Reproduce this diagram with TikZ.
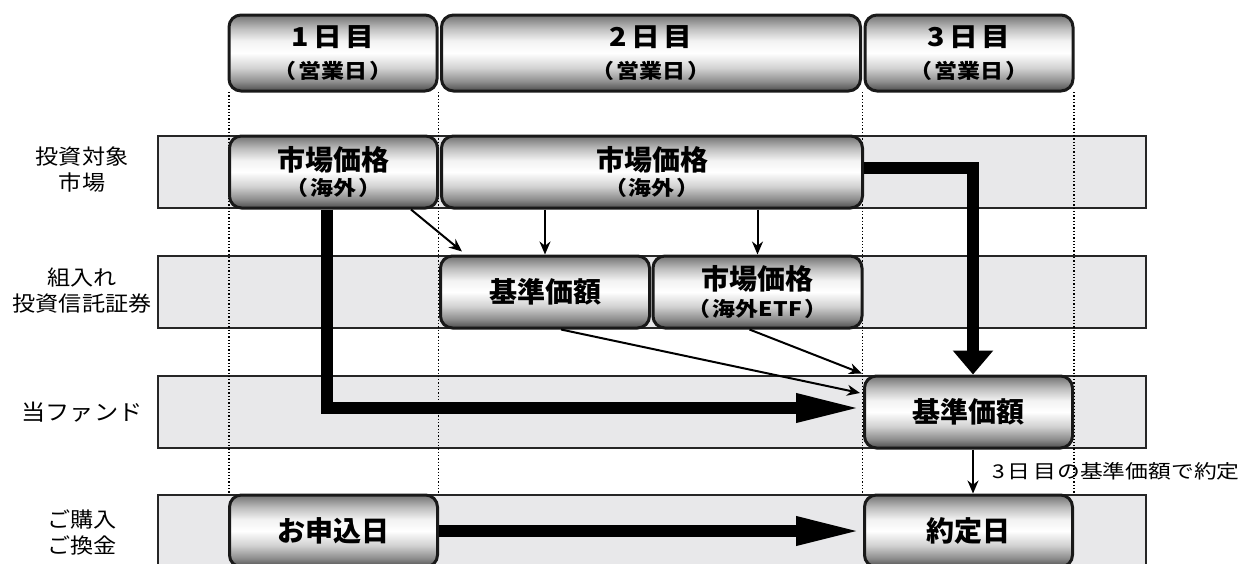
\documentclass[tikz,border=0pt]{standalone}
\usepackage{fontspec}
\usetikzlibrary{arrows.meta,calc}
\newfontfamily\jp[Kerning=Off]{Noto Sans CJK JP}
\newfontfamily\jpst[Kerning=Off,FakeStretch=1.15]{Noto Sans CJK JP}
\newfontfamily\jplab[Kerning=Off,FakeStretch=1.1]{Noto Sans CJK JP}
\newfontfamily\jplabk[FakeStretch=1.1]{Noto Sans CJK JP}
\newfontfamily\jpsp[Kerning=Off,LetterSpace=15,FakeStretch=1.1]{Noto Sans CJK JP}
\newfontfamily\jpwide[Kerning=Off,FakeStretch=1.2]{Noto Sans CJK JP}
\definecolor{bandgray}{HTML}{E8E8EA}
\pgfdeclareverticalshading{boxshade}{100bp}{color(0bp)=(black!70); color(25bp)=(black!70); color(31bp)=(black!45); color(40bp)=(black!18); color(50bp)=(white); color(58bp)=(black!5); color(66bp)=(black!25); color(75bp)=(black!55); color(100bp)=(black!55)}
\tikzset{
  band/.style={draw=black!85, line width=1.2pt, fill=bandgray, minimum width=988pt, minimum height=72pt, inner sep=0pt},
  gbox/.style={draw=black!90, line width=3pt, rounded corners=12pt, shading=boxshade, minimum width=208pt, minimum height=72pt, inner sep=0pt, align=center, font=\jp\bfseries},
  hbox/.style={gbox, minimum height=76pt, font=\jp\bfseries},
  guide/.style={dotted, line width=1.3pt},
  thinarr/.style={line width=2pt, -{Stealth[length=13pt,width=11pt]}},
  thickh/.style={line width=12pt, line join=miter, -{Triangle[length=67pt,width=26pt]}},
  thickv/.style={line width=12pt, line join=miter, -{Triangle[length=24pt,width=39pt]}},
  rowlabel/.style={align=center, font=\jplab\fontsize{21}{26}\selectfont, inner sep=0pt}
}
\newcommand{\bigtxt}[1]{{\fontsize{28}{32}\selectfont #1}}
\newcommand{\smltxt}[1]{{\jpst\bfseries\fontsize{20}{24}\selectfont （\hspace{2pt}#1\hspace{2pt}）}}
\newcommand{\hdtxt}[1]{{\jpsp\bfseries\fontsize{26}{30}\selectfont #1}\\[11pt]{\jpst\bfseries\fontsize{20}{24}\selectfont （\hspace{2pt}営業日\hspace{2pt}）}}
\begin{document}
\begin{tikzpicture}[x=1pt,y=-1pt]
\useasboundingbox (0,0) rectangle (1245,563);
% bands
\node[band] (band1) at (652,172) {};
\node[band] (band2) at (652,292) {};
\node[band] (band3) at (652,412) {};
\node[band] (band4) at (652,531) {};
% headers
\node[hbox] (h1) at (333,53) {\hdtxt{1日目}};
\node[hbox, minimum width=419pt] (h2) at (651,53) {\hdtxt{2日目}};
\node[hbox] (h3) at (969,53) {\hdtxt{3日目}};
% dotted guides
\coordinate (g1) at (229,92); \coordinate (g2) at (438.5,92);
\coordinate (g3) at (862.5,92); \coordinate (g4) at (1074,92);
\foreach \g in {g1,g2,g3,g4} \draw[guide] (\g) -- (\g |- band4.north);
% boxes
\node[gbox] (r1a) at (333.5,172) {\bigtxt{市場価格}\\[3pt]\smltxt{海外}};
\node[gbox, minimum width=421pt] (r1b) at (652,172) {\bigtxt{市場価格}\\[3pt]\smltxt{海外}};
\node[gbox, minimum width=209pt] (r2a) at (545,292) {\bigtxt{基準価額}};
\node[gbox, minimum width=209pt] (r2b) at (757.5,292) {\bigtxt{市場価格}\\[6pt]\smltxt{海外ETF}};
\node[gbox] (r3) at (968.5,412) {\bigtxt{基準価額}};
\node[gbox] (r4a) at (333.5,531) {\bigtxt{お申込日}};
\node[gbox] (r4b) at (968.5,531) {\bigtxt{約定日}};
% row labels
\node[rowlabel] (l1) at (82,170) {投資対象\\市場};
\node[rowlabel] (l2) at (82,291) {組入れ\\投資信託証券};
\node[rowlabel, font=\jplabk\fontsize{22}{26}\selectfont] (l3) at (82,412) {当ファンド};
\node[rowlabel] (l4) at (82,532) {ご購入\\ご換金};
% thin arrows
\draw[thinarr] ($(r1a.south east)+(-28,0)$) -- ($(r2a.north west)+(23,-3)$);
\draw[thinarr] (r2a.north |- r1b.south) -- (r2a.north);
\draw[thinarr] (r2b.north |- r1b.south) -- (r2b.north);
\draw[thinarr] ($(r2a.south)+(16,0)$) -- ($(r3.west)+(-3,-19)$);
\draw[thinarr] ($(r2b.south)+(-8,0)$) -- ($(r3.north west)+(-1,-1)$);
\draw[thinarr] ($(r3.south)+(4.5,0)$) -- node[right=18pt, font=\jpwide\fontsize{19}{22}\selectfont, inner sep=0pt] (lbl) {3\hspace{3pt}日\hspace{3pt}目\hspace{1pt}の基準価額で約定} ($(r4b.north)+(4.5,0)$);
% thick arrows
\draw[thickh] ($(r1a.south)+(-7,0)$) |- ($(r3.west)+(0,-4)$);
\draw[thickv] ($(r1b.east)+(0,-4)$) -| ($(r3.north)+(4.5,0)$);
\draw[thickh] (r4a.east) -- (r4b.west);
\end{tikzpicture}
\end{document}
